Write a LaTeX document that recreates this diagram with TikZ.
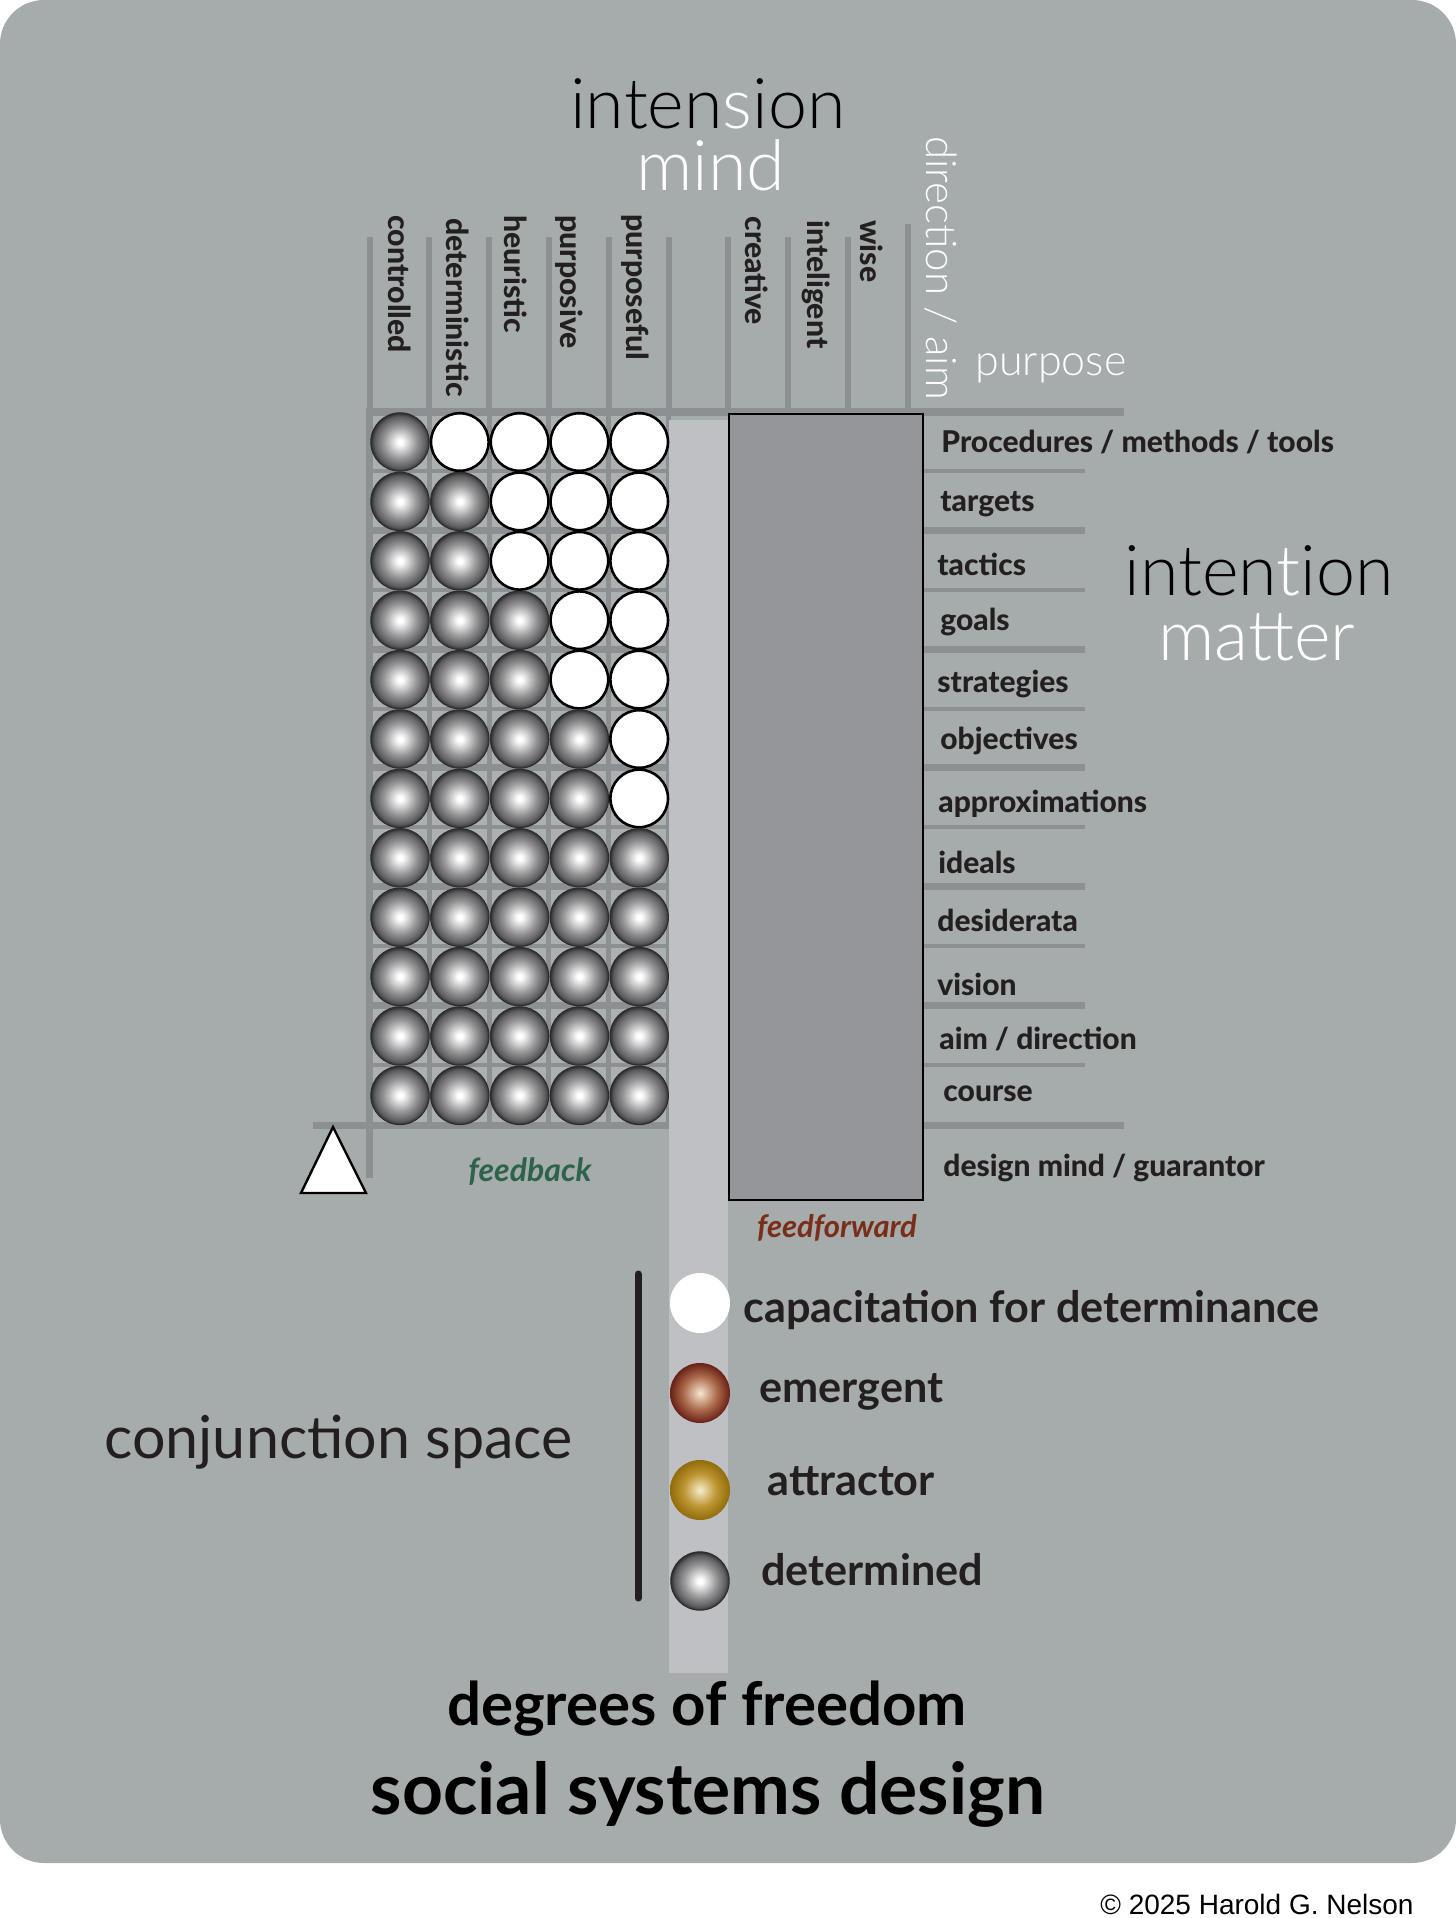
\documentclass[tikz,border=0pt]{standalone}
\usepackage{fontspec}
\setmainfont{Lato}
\newfontfamily\lightfont{Lato Light}
\newfontfamily\notefont{Liberation Sans}
\IfFontExistsTF{Lato Heavy}{\newfontfamily\heavyfont{Lato Heavy}}{\newfontfamily\heavyfont{Lato Bold}[FakeBold=1.2]}
\usetikzlibrary{positioning}
\definecolor{panel}{RGB}{166,171,171}
\definecolor{gridline}{RGB}{141,144,147}
\definecolor{cell}{RGB}{171,177,177}
\definecolor{channel}{RGB}{190,192,196}
\definecolor{slab}{RGB}{148,150,154}
\definecolor{ink}{RGB}{35,31,32}
\definecolor{fbgreen}{RGB}{45,98,75}
\definecolor{ffbrown}{RGB}{122,45,25}
\definecolor{ballmid}{RGB}{150,150,152}
\definecolor{balldark}{RGB}{92,92,94}
\definecolor{ballrim}{RGB}{45,45,47}
\definecolor{copperhi}{RGB}{246,230,208}
\definecolor{coppermid}{RGB}{172,106,76}
\definecolor{copperrim}{RGB}{105,32,22}
\definecolor{goldhi}{RGB}{246,236,206}
\definecolor{goldmid}{RGB}{188,148,48}
\definecolor{goldrim}{RGB}{145,108,10}
\pgfdeclareradialshading{greyball}{\pgfpoint{0bp}{0bp}}{color(0bp)=(white); color(2bp)=(white); color(14bp)=(ballmid); color(22bp)=(balldark); color(25bp)=(ballrim); color(50bp)=(ballrim)}
\pgfdeclareradialshading{copperball}{\pgfpoint{0bp}{0bp}}{color(0bp)=(copperhi); color(14bp)=(coppermid); color(25bp)=(copperrim); color(50bp)=(copperrim)}
\pgfdeclareradialshading{goldball}{\pgfpoint{0bp}{0bp}}{color(0bp)=(goldhi); color(14bp)=(goldmid); color(25bp)=(goldrim); color(50bp)=(goldrim)}

\begin{document}
\begin{tikzpicture}[x=0.5pt,y=-0.5pt,
  colhead/.style={rotate=-90,anchor=west,inner sep=0pt,text=ink,font={\heavyfont\fontsize{15.1}{18}\selectfont}},
  rowlabel/.style={anchor=base west,inner sep=0pt,text=ink,font={\heavyfont\fontsize{15}{18}\selectfont}},
  keylabel/.style={anchor=base west,inner sep=0pt,text=ink,font={\bfseries\fontsize{21.6}{26}\selectfont}},
  bigthin/.style={inner sep=0pt,font={\lightfont\fontsize{35}{40}\selectfont}},
  midthin/.style={inner sep=0pt,text=white,font={\lightfont\fontsize{21}{26}\selectfont}},
  greysphere/.style={shading=greyball,draw=ballrim,line width=0.5pt},
  emptysphere/.style={draw=black,line width=1.3pt,fill=white}]
\useasboundingbox (0,0) rectangle (1456,1918);

% Panel
\fill[white] (0,0) rectangle (1456,1918);
\fill[panel, rounded corners=22pt] (0,0) rectangle (1456,1863);

% Header columns
\foreach \k in {0,...,8}
  \draw[gridline, line width=3pt] ({369.5+59.8*\k},237) -- ({369.5+59.8*\k},412);
\draw[gridline, line width=3pt] (907.7,224) -- (907.7,412);

% Cells of the grid
\fill[cell] (366,412) rectangle (669,1126);
\foreach \k in {1,...,5}
  \draw[gridline, line width=2.5pt] ({369.5+59.8*\k},412) -- ({369.5+59.8*\k},1126);
\draw[gridline, line width=3.5pt] (369.5,412) -- (369.5,1178);

% Row lines, thin and thick
\foreach \r in {1,3,...,11}
  \draw[gridline, line width=2pt] (366,{412+59.33*\r}) -- (1085,{412+59.33*\r});
\foreach \r in {2,4,...,10}
  \draw[gridline, line width=3.5pt] (366,{412+59.33*\r}) -- (1085,{412+59.33*\r});
\draw[gridline, line width=4pt] (366,412) -- (1124,412);
\draw[gridline, line width=3.5pt] (313,1125) -- (1124,1125);

% Channel and slab
\fill[channel] (669,420) rectangle (728,1673);
\draw[black, line width=1pt, fill=slab] (729,414) rectangle (923,1200);

% Spheres: determined ones on the left, open ones on the right
\foreach \r/\n in {0/1,1/2,2/2,3/3,4/3,5/4,6/4,7/5,8/5,9/5,10/5,11/5}
  \foreach \c in {0,...,4} {
    \ifnum\c<\n
      \shade[greysphere] ({400+59.8*\c},{442+59.4*\r}) circle[radius=14.6pt];
    \else
      \draw[emptysphere] ({400+59.8*\c},{442+59.4*\r}) circle[radius=14.4pt];
    \fi
  }

% Feedback corner
\draw[black, line width=1.2pt, fill=white] (333,1127) -- (366,1193) -- (301,1193) -- cycle;
\node[inner sep=0pt, anchor=base, text=fbgreen, font={\bfseries\itshape\fontsize{16}{18}\selectfont}] (feedback) at (530,1181) {feedback};
\node[inner sep=0pt, anchor=base, text=ffbrown, font={\bfseries\itshape\fontsize{15.5}{18}\selectfont}] (feedforward) at (837,1237) {feedforward};

% Titles
\node[bigthin, anchor=base, text=black] (intension) at (708,128) {inten\textcolor{white}{s}ion};
\node[bigthin, anchor=base, text=white, text height=0.5em] (mind) at (711,190) {mind};
\node[bigthin, anchor=base west, text=black] (intention) at (1124,595) {inten\textcolor{white}{t}ion};
\node[bigthin, anchor=base west, text=white, text height=0.5em] (matter) at (1158,660) {matter};
\node[midthin, anchor=base west, font={\lightfont\fontsize{21.5}{26}\selectfont}] (purpose) at (975,375) {purpose};
\node[midthin, rotate=-90, anchor=west] (aim) at (941,136) {direction / aim};

% Column heads
\foreach \x/\y/\t [count=\i] in {400/215/controlled, 457.6/218/deterministic, 516/215/heuristic,
    569/215/purposive, 635/214/purposeful, 757/216/creative, 816/220/inteligent, 872/220/wise}
  \node[colhead] (col\i) at (\x,\y) {\t};

% Row labels
\foreach \x/\y/\t [count=\i] in {941/452/{Procedures / methods / tools}, 940/511/targets,
    937/575/tactics, 940/630/goals, 937/692/strategies, 940/749/objectives,
    938/812/approximations, 938/873/ideals, 937/931/desiderata, 937/995/vision,
    939/1049/{aim / direction}, 943/1101/course, 943/1176/{design mind / guarantor}}
  \node[rowlabel] (row\i) at (\x,\y) {\t};

% Key
\draw[ink, line width=3.5pt, line cap=round] (638,1274) -- (638,1598);
\fill[white] (700,1303) circle[radius=15pt];
\shade[shading=copperball] (700,1393) circle[radius=15pt];
\shade[shading=goldball] (700,1490) circle[radius=15pt];
\shade[greysphere] (700,1581) circle[radius=14.6pt];
\node[keylabel] (keyopen) at (743,1322) {capacitation for determinance};
\node[keylabel] (keyemerg) at (759,1402) {emergent};
\node[keylabel] (keyattr) at (767,1495) {attractor};
\node[keylabel] (keydet) at (761,1585) {determined};

% Captions
\node[inner sep=0pt, anchor=base west, text=ink, font={\fontsize{29.6}{34}\selectfont}] (conj) at (104,1458) {conjunction space};
\node[inner sep=0pt, anchor=base, text=black, font={\bfseries\fontsize{30}{34}\selectfont}] (dof) at (707,1725) {degrees of freedom};
\node[inner sep=0pt, anchor=base, text=black, font={\bfseries\fontsize{35.7}{40}\selectfont}] (ssd) at (708,1814) {social systems design};
\node[inner sep=0pt, anchor=base east, font={\notefont\fontsize{14}{16}\selectfont}] (note) at (1414,1914) {\textcopyright{} 2025 Harold G. Nelson};
\end{tikzpicture}
\end{document}
